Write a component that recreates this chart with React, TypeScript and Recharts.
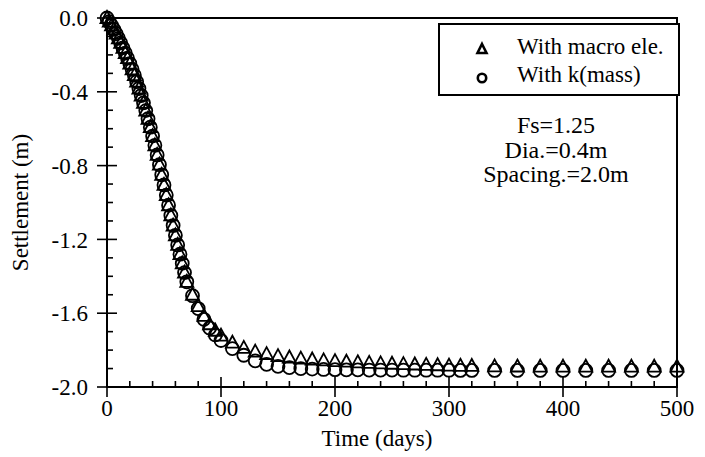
import React from "react";
import { ScatterChart, Scatter, XAxis, YAxis, ReferenceArea, Legend, Label } from "recharts";

// time steps of the output (days)
const times = [
  0, 2, 4, 6, 8, 10, 12, 14, 16, 18, 20, 22, 24, 26, 28, 30, 32, 34, 36, 38, 40,
  42, 44, 46, 48, 50, 52, 54, 56, 58, 60, 62, 64, 66, 68, 70,
  75, 80, 85, 90, 95, 100,
  110, 120, 130, 140, 150, 160, 170, 180, 190, 200, 210, 220, 230, 240, 250,
  260, 270, 280, 290, 300, 310, 320,
  340, 360, 380, 400, 420, 440, 460, 480, 500,
];

// settlement (m), "With macro ele."
const macroSettlement = [
  0, -0.02, -0.04, -0.062, -0.085, -0.11, -0.135, -0.162, -0.19, -0.218, -0.247,
  -0.278, -0.31, -0.345, -0.382, -0.42, -0.46, -0.502, -0.546, -0.592, -0.64,
  -0.69, -0.742, -0.795, -0.85, -0.905, -0.96, -1.015, -1.07, -1.125, -1.178,
  -1.23, -1.28, -1.33, -1.38, -1.43,
  -1.5, -1.562, -1.615, -1.66, -1.695, -1.722,
  -1.76, -1.788, -1.808, -1.822, -1.833, -1.84, -1.846, -1.851, -1.856, -1.86,
  -1.863, -1.866, -1.869, -1.872, -1.874, -1.876, -1.878, -1.88, -1.882, -1.884,
  -1.885, -1.886,
  -1.888, -1.889, -1.89, -1.89, -1.89, -1.89, -1.89, -1.89, -1.89,
];

// settlement (m), "With k(mass)"
const kmassSettlement = [
  0, -0.02, -0.04, -0.062, -0.085, -0.11, -0.135, -0.162, -0.19, -0.218, -0.247,
  -0.278, -0.31, -0.345, -0.382, -0.42, -0.46, -0.502, -0.546, -0.592, -0.64,
  -0.69, -0.742, -0.795, -0.85, -0.905, -0.96, -1.015, -1.07, -1.125, -1.178,
  -1.23, -1.28, -1.33, -1.38, -1.43,
  -1.505, -1.575, -1.633, -1.68, -1.718, -1.748,
  -1.792, -1.828, -1.858, -1.877, -1.888, -1.895, -1.9, -1.903, -1.905, -1.906,
  -1.907, -1.907, -1.908, -1.908, -1.908, -1.909, -1.909, -1.909, -1.909, -1.909,
  -1.91, -1.91,
  -1.91, -1.91, -1.91, -1.91, -1.91, -1.91, -1.91, -1.91, -1.91,
];

const seriesNames = ["With macro ele.", "With k(mass)"];

const xTicks = [
  0, 20, 40, 60, 80, 100, 120, 140, 160, 180, 200, 220, 240, 260, 280, 300,
  320, 340, 360, 380, 400, 420, 440, 460, 480, 500,
];
const yTicks = [
  0, -0.1, -0.2, -0.3, -0.4, -0.5, -0.6, -0.7, -0.8, -0.9, -1.0, -1.1, -1.2,
  -1.3, -1.4, -1.5, -1.6, -1.7, -1.8, -1.9, -2.0,
];
const notes = ["Fs=1.25", "Dia.=0.4m", "Spacing.=2.0m"];

const FONT = '"Liberation Serif", "Times New Roman", Times, serif';

const macroData = times.map((t, i) => ({ t, s: macroSettlement[i] }));
const kmassData = times.map((t, i) => ({ t, s: kmassSettlement[i] }));

const Triangle = (props: any) => {
  const { cx, cy } = props;
  if (cx == null || cy == null) return null;
  return (
    <path
      d={`M${cx},${cy - 7} L${cx + 6.5},${cy + 5} L${cx - 6.5},${cy + 5} Z`}
      fill="none"
      stroke="#000"
      strokeWidth={1.8}
    />
  );
};

const Circle = (props: any) => {
  const { cx, cy } = props;
  if (cx == null || cy == null) return null;
  return <circle cx={cx} cy={cy} r={6.5} fill="none" stroke="#000" strokeWidth={1.8} />;
};

const XTick = (props: any) => {
  const { x, y, payload } = props;
  const v = payload.value;
  const major = v % 100 === 0;
  return (
    <g>
      <line x1={x} x2={x} y1={major ? y + 10 : y} y2={major ? y - 10 : y - 6} stroke="#000" strokeWidth={1.6} />
      {major && (
        <text x={x} y={y + 29} textAnchor="middle" fontFamily={FONT} fontSize={23} fill="#000">
          {v}
        </text>
      )}
    </g>
  );
};

const YTick = (props: any) => {
  const { x, y, payload } = props;
  const v = payload.value;
  const major = Math.round(v * 10) % 4 === 0;
  return (
    <g>
      <line x1={major ? x - 10 : x} x2={major ? x + 10 : x + 6} y1={y} y2={y} stroke="#000" strokeWidth={1.6} />
      {major && (
        <text x={x - 19} y={y} dy="0.36em" textAnchor="end" fontFamily={FONT} fontSize={23} fill="#000">
          {v.toFixed(1)}
        </text>
      )}
    </g>
  );
};

const LegendBox = (props: any) => {
  const items = [...(props.payload || [])].sort(
    (a: any, b: any) => seriesNames.indexOf(a.value) - seriesNames.indexOf(b.value)
  );
  return (
    <div style={{ width: 242, height: 73, border: "2px solid #000", boxSizing: "border-box", background: "#fff" }}>
      <svg width={238} height={69}>
        {items.map((item: any, i: number) => {
          const cy = 24 + i * 28;
          const isMacro = item.value === seriesNames[0];
          return (
            <g key={item.value}>
              {isMacro ? (
                <path d={`M42,${cy - 5} L46.5,${cy + 4} L37.5,${cy + 4} Z`} fill="none" stroke="#000" strokeWidth={2.6} />
              ) : (
                <circle cx={42} cy={cy + 1} r={4.2} fill="none" stroke="#000" strokeWidth={2.6} />
              )}
              <text x={77} y={cy + 5} fontFamily={FONT} fontSize={23} fill="#000">
                {item.value}
              </text>
            </g>
          );
        })}
      </svg>
    </div>
  );
};

export default function App() {
  return (
    <div style={{ position: "absolute", left: 0, top: 0, width: 705, height: 457, background: "#fff" }}>
      <ScatterChart width={705} height={457} margin={{ top: 18, right: 28, bottom: 0, left: 0 }}>
        <XAxis
          type="number"
          dataKey="t"
          domain={[0, 500]}
          ticks={xTicks}
          interval={0}
          tickSize={0}
          tickMargin={0}
          tickLine={false}
          tick={<XTick />}
          height={70}
          axisLine={{ stroke: "#000", strokeWidth: 2 }}
        >
          <Label
            content={(p: any) => {
              const vb = p.viewBox;
              return (
                <text x={vb.x + vb.width / 2 - 15} y={vb.y + 59} textAnchor="middle" fontFamily={FONT} fontSize={23} fill="#000">
                  Time (days)
                </text>
              );
            }}
          />
        </XAxis>
        <YAxis
          type="number"
          dataKey="s"
          domain={[-2, 0]}
          ticks={yTicks}
          interval={0}
          tickSize={0}
          tickMargin={0}
          tickLine={false}
          tick={<YTick />}
          width={107}
          axisLine={{ stroke: "#000", strokeWidth: 2 }}
        >
          <Label
            content={(p: any) => {
              const vb = p.viewBox;
              const cx = vb.x + 28;
              const cy = vb.y + vb.height / 2;
              return (
                <text x={cx} y={cy} transform={`rotate(-90 ${cx} ${cy})`} textAnchor="middle" fontFamily={FONT} fontSize={23} fill="#000">
                  Settlement (m)
                </text>
              );
            }}
          />
        </YAxis>
        <ReferenceArea x1={0} x2={500} y1={-2} y2={0} fill="none" fillOpacity={0} stroke="#000" strokeWidth={2} />
        <Scatter name={seriesNames[0]} data={macroData} shape={<Triangle />} isAnimationActive={false} />
        <Scatter name={seriesNames[1]} data={kmassData} shape={<Circle />} isAnimationActive={false} />
        <Legend
          layout="vertical"
          align="center"
          verticalAlign="middle"
          content={<LegendBox />}
          wrapperStyle={{ left: 438, top: 23, width: 242, height: 73 }}
        />
      </ScatterChart>
      <svg width={705} height={457} style={{ position: "absolute", left: 0, top: 0, pointerEvents: "none" }}>
        {notes.map((n, i) => (
          <text key={n} x={556} y={133 + i * 24.5} textAnchor="middle" fontFamily={FONT} fontSize={24} fill="#000">
            {n}
          </text>
        ))}
      </svg>
    </div>
  );
}
